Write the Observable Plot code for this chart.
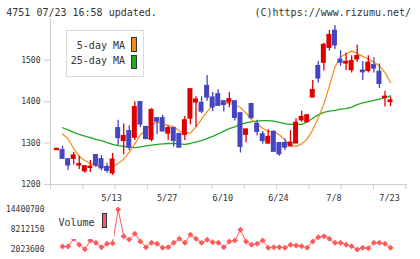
<!DOCTYPE html>
<html>
<head>
<meta charset="utf-8">
<script src="https://cdn.jsdelivr.net/npm/d3@7"></script>
<script src="https://cdn.jsdelivr.net/npm/@observablehq/plot@0.6"></script>
<style>
  body { margin: 0; background: #fff; }
  #chart { position: relative; width: 420px; height: 259px; overflow: hidden;
           font-family: "DejaVu Sans Mono", monospace; color: #333; }
  #chart svg { position: absolute; left: 0; }
  .lbl { position: absolute; font-size: 10px; line-height: 10px; white-space: pre; }
  .sw { position: absolute; box-sizing: border-box; border: 1px solid #333; }
</style>
</head>
<body>
<div id="chart">
  <div class="lbl" style="left:6.3px;top:7.5px">4751 07/23 16:58 updated.</div>
  <div class="lbl" style="left:254.5px;top:7.5px">(C)https://www.rizumu.net/</div>
</div>
<script>
// Trading days, 2024-04-24 .. 2024-07-23
const dates = ["4/24","4/25","4/26","4/30","5/1","5/2","5/7","5/8","5/9","5/10",
  "5/13","5/14","5/15","5/16","5/17","5/20","5/21","5/22","5/23","5/24",
  "5/27","5/28","5/29","5/30","5/31","6/3","6/4","6/5","6/6","6/7",
  "6/10","6/11","6/12","6/13","6/14","6/17","6/18","6/19","6/20","6/21",
  "6/24","6/25","6/26","6/27","6/28","7/1","7/2","7/3","7/4","7/5",
  "7/8","7/9","7/10","7/11","7/12","7/16","7/17","7/18","7/19","7/22","7/23"];
const labelDates = ["5/13","5/27","6/10","6/24","7/8","7/23"];

const open  = [1284,1282,1260,1263,1247,1233,1241,1270,1260,1241,1228,1335,1306,1328,1314,1398,1338,1309,1359,1359,
               1324,1335,1321,1321,1360,1399,1396,1437,1409,1417,1400,1399,1400,1371,1321,1393,1345,1320,1300,1326,
               1299,1299,1293,1300,1356,1352,1411,1485,1495,1531,1570,1500,1493,1477,1503,1474,1475,1487,1471,1410,1400];
const high  = [1287,1292,1261,1277,1268,1246,1258,1272,1270,1251,1275,1355,1346,1342,1400,1399,1339,1383,1360,1367,
               1342,1336,1322,1364,1430,1412,1412,1463,1422,1429,1401,1422,1400,1372,1333,1396,1355,1328,1332,1330,
               1301,1310,1330,1359,1377,1369,1451,1497,1541,1572,1584,1523,1517,1511,1536,1497,1511,1506,1491,1425,1411];
const low   = [1283,1262,1234,1247,1236,1227,1229,1241,1233,1227,1222,1294,1272,1282,1306,1337,1308,1303,1321,1328,
               1306,1290,1290,1306,1344,1338,1371,1401,1376,1388,1375,1385,1353,1276,1301,1359,1317,1297,1297,1279,
               1268,1282,1292,1299,1350,1348,1410,1445,1474,1522,1526,1485,1475,1469,1495,1451,1469,1469,1432,1387,1388];
const close = [1285,1263,1247,1269,1248,1243,1242,1247,1240,1234,1259,1313,1316,1290,1386,1346,1311,1379,1353,1329,
               1335,1306,1290,1354,1429,1404,1377,1411,1387,1391,1393,1405,1362,1292,1332,1361,1328,1306,1314,1280,
               1274,1290,1300,1348,1362,1366,1427,1457,1536,1560,1537,1495,1495,1497,1509,1472,1493,1481,1444,1411,1402];

// Moving averages (no value on the first day)
const ma5  = [null,1322,1310,1287,1268,1258,1250,1246,1243,1242,1242,1251,1261,1278,1298,1320,1332,1344,1351,1347,
              1342,1340,1329,1325,1324,1339,1357,1376,1391,1396,1397,1396,1392,1386,1373,1357,1346,1336,1328,1328,
              1320,1307,1294,1292,1298,1310,1332,1361,1394,1438,1484,1508,1515,1522,1517,1509,1503,1495,1487,1470,1446];
const ma25 = [null,1337,1332,1326,1321,1317,1313,1309,1306,1301,1297,1294,1292,1290,1289,1291,1293,1295,1297,1298,
              1299,1299,1298,1297,1299,1303,1306,1311,1316,1322,1329,1335,1339,1345,1349,1352,1353,1354,1354,1353,
              1350,1347,1345,1345,1345,1351,1360,1368,1374,1377,1379,1382,1383,1387,1393,1397,1400,1403,1406,1410,1414];

// Daily volume (shares)
const volume = [null,2950000,2950000,5320000,3470000,2100000,4810000,4090000,2750000,3780000,3980000,
  14400700,6150000,5120000,6870000,4500000,2750000,4090000,3780000,2540000,2750000,
  4090000,5320000,4090000,6560000,5320000,4090000,5010000,4290000,4090000,2750000,
  4500000,4810000,8110000,4500000,3470000,3780000,4810000,2540000,2750000,2750000,
  2540000,3470000,3260000,3050000,2540000,4500000,5840000,6150000,5320000,4090000,
  4090000,3470000,3050000,2023600,2540000,2440000,4090000,4090000,3780000,2540000];

const priceTicks = [1200, 1300, 1400, 1500];
const volTicks = [2023600, 8212150, 14400700];

const UP = "#dd0000", DOWN = "#4545c2", MA5C = "#f08c1a", MA25C = "#22a822", VOLC = "#ff5a5a";
const AXIS = "#cfcfcf";
const xDomain = [-1.17, 62.74];
const idx = d3.range(dates.length);
const candles = idx.map(i => ({i, o: open[i], h: high[i], l: low[i], c: close[i]}));
const col = d => d.c >= d.o ? UP : DOWN;
const gridPos = d3.range(12).map(k => xDomain[0] + k * (xDomain[1] - xDomain[0]) / 11);

const main = Plot.plot({
  width: 420, height: 205,
  marginTop: 18.3, marginBottom: 21, marginLeft: 50, marginRight: 14.7,
  style: {fontFamily: "'DejaVu Sans Mono', monospace", background: "transparent"},
  x: {domain: xDomain, axis: null, label: null},
  y: {domain: [1200, 1600], axis: null, label: null},
  marks: [
    Plot.frame({anchor: "left", stroke: AXIS}),
    Plot.frame({anchor: "bottom", stroke: AXIS}),
    Plot.axisX(gridPos, {tickSize: 5, stroke: AXIS, tickFormat: () => "", label: null}),
    Plot.axisY(priceTicks, {tickSize: 6, tickPadding: 4, stroke: AXIS, color: "#333", fontSize: 8,
                            tickFormat: d => String(d), label: null}),
    Plot.text(labelDates, {x: d => dates.indexOf(d), y: 1200, text: d => d, dy: 13.5, dx: -1,
                           fontSize: 8.5, fill: "#333"}),
    Plot.line(idx.filter(i => ma25[i] != null), {x: i => i, y: i => ma25[i], stroke: MA25C, strokeWidth: 1.3}),
    Plot.line(idx.filter(i => ma5[i] != null), {x: i => i, y: i => ma5[i], stroke: MA5C, strokeWidth: 1.2}),
    Plot.ruleX(candles, {x: "i", y1: "l", y2: "h", stroke: col, strokeWidth: 1.3}),
    Plot.rect(candles, {x1: d => d.i - 0.45, x2: d => d.i + 0.45, y1: "o", y2: "c", fill: col,
                        insetTop: -1, insetBottom: -1})
  ]
});
main.style.top = "0px";

const volIdx = idx.filter(i => volume[i] != null);
const vol = Plot.plot({
  width: 420, height: 59,
  marginTop: 9, marginBottom: 10, marginLeft: 50, marginRight: 14.7,
  style: {fontFamily: "'DejaVu Sans Mono', monospace", background: "transparent"},
  x: {domain: xDomain, axis: null, label: null},
  y: {domain: [d3.min(volIdx, i => volume[i]), d3.max(volIdx, i => volume[i])], axis: null, label: null},
  marks: [
    Plot.axisY(volTicks, {tickSize: 0, tickPadding: 6, color: "#333", fontSize: 8,
                          tickFormat: d => String(d), label: null}),
    Plot.line(volIdx, {x: i => i, y: i => volume[i], stroke: VOLC, strokeWidth: 1}),
    Plot.dot(volIdx, {x: i => i, y: i => volume[i], symbol: "diamond2", r: 2.7, fill: VOLC, stroke: "none"})
  ]
});
vol.style.top = "200px";

const chart = document.getElementById("chart");
chart.appendChild(main);
chart.appendChild(vol);

// Legends
function el(tag, cls, css, text) {
  const e = document.createElement(tag);
  if (cls) e.className = cls;
  e.setAttribute("style", css);
  if (text) e.textContent = text;
  chart.appendChild(e);
  return e;
}
el("div", "", "position:absolute;left:66px;top:30px;width:78px;height:47px;box-sizing:border-box;border:1.5px solid #dadada;background:#fff");
el("div", "lbl", "left:0;width:125px;text-align:right;top:40.5px", "5-day MA");
el("div", "sw", `left:131px;top:37.3px;width:6.3px;height:14.4px;background:${MA5C}`);
el("div", "lbl", "left:0;width:125px;text-align:right;top:56px", "25-day MA");
el("div", "sw", `left:131px;top:55px;width:6.3px;height:14.4px;background:${MA25C}`);

el("div", "", "position:absolute;left:52px;top:206px;width:62.3px;height:32.5px;background:#fff");
el("div", "lbl", "left:58.5px;top:218.2px", "Volume");
el("div", "sw", `left:101.7px;top:213.3px;width:5.8px;height:15px;background:${VOLC}`);
</script>
</body>
</html>
